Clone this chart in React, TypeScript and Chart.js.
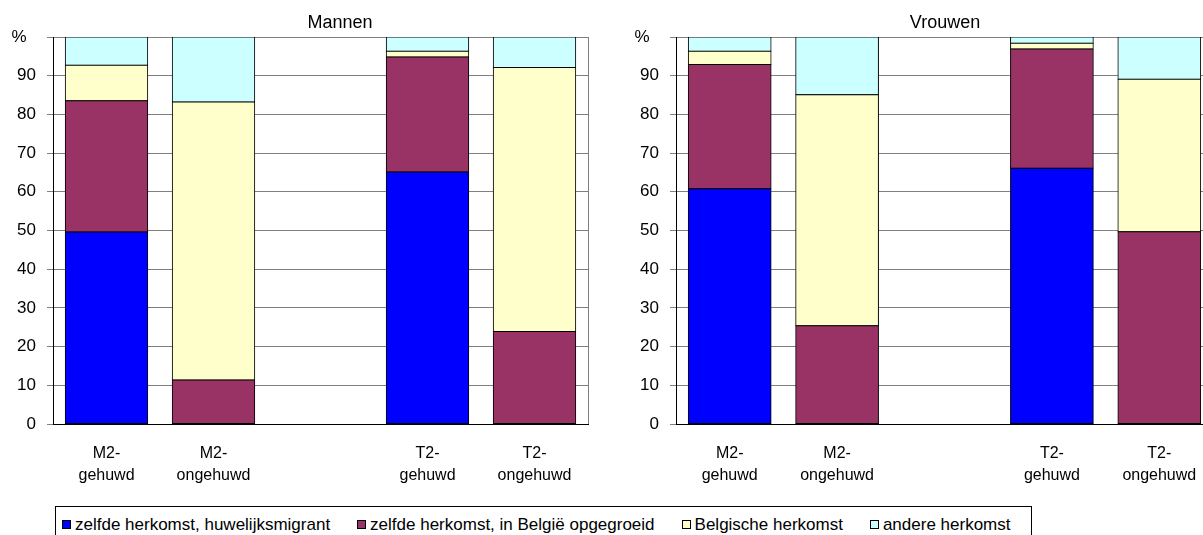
import React, { useEffect, useRef } from "react";
import { Chart, registerables } from "chart.js";

Chart.register(...registerables);

const FONT = "'Liberation Sans', Arial, sans-serif";

const categories: (string | string[])[] = [
  ["M2-", "gehuwd"],
  ["M2-", "ongehuwd"],
  "",
  ["T2-", "gehuwd"],
  ["T2-", "ongehuwd"],
];

const seriesNames = [
  "zelfde herkomst, huwelijksmigrant",
  "zelfde herkomst, in België opgegroeid",
  "Belgische herkomst",
  "andere herkomst",
];
const seriesColors = ["#0000FF", "#993366", "#FFFFCC", "#CCFFFF"];

const yTickValues = [0, 10, 20, 30, 40, 50, 60, 70, 80, 90, 100];
const yTickLabels = ["0", "10", "20", "30", "40", "50", "60", "70", "80", "90", "%  "];

const mannenMigrant = [49.6, null, null, 65.1, null];
const mannenOpgegroeid = [33.9, 11.4, null, 29.7, 23.9];
const mannenBelgisch = [9.2, 71.8, null, 1.5, 68.2];
const mannenAndere = [7.3, 16.8, null, 3.7, 7.9];

const vrouwenMigrant = [60.8, null, null, 66.1, null];
const vrouwenOpgegroeid = [32.1, 25.4, null, 30.8, 49.7];
const vrouwenBelgisch = [3.4, 59.7, null, 1.5, 39.4];
const vrouwenAndere = [3.7, 14.9, null, 1.6, 10.9];

const panelPlugin = {
  id: "panel",
  beforeDatasetsDraw(chart: any) {
    const { ctx, chartArea } = chart;
    ctx.save();
    ctx.strokeStyle = "#808080";
    ctx.lineWidth = 1;
    ctx.beginPath();
    const x = Math.round(chartArea.right) + 0.5;
    ctx.moveTo(x, chartArea.top);
    ctx.lineTo(x, chartArea.bottom);
    ctx.stroke();
    ctx.restore();
  },
  afterDraw(chart: any, _args: any, opts: any) {
    const { ctx } = chart;
    ctx.save();
    ctx.fillStyle = "#000";
    ctx.font = `${opts.size || 17}px ${FONT}`;
    ctx.textAlign = "center";
    ctx.textBaseline = "middle";
    ctx.fillText(opts.text, opts.x, opts.y);
    ctx.restore();
  },
};

function Panel(props: {
  title: string;
  titleX: number;
  left: number;
  width: number;
  rightPad: number;
  data: (number | null)[][];
}) {
  const ref = useRef<HTMLCanvasElement>(null);
  useEffect(() => {
    const canvas = ref.current!;
    const chart = new Chart(canvas, {
      type: "bar",
      data: {
        labels: categories,
        datasets: props.data.map((d, i) => ({
          label: seriesNames[i],
          data: d,
          backgroundColor: seriesColors[i],
          borderColor: "#000000",
          borderWidth: 1,
          borderSkipped: false,
          inflateAmount: 0.5,
          categoryPercentage: 1,
          barPercentage: 0.77,
        })),
      },
      options: {
        animation: false,
        responsive: false,
        devicePixelRatio: 1,
        layout: { padding: { left: 0, right: props.rightPad, top: 37, bottom: 0 } },
        font: { family: FONT, size: 16 },
        plugins: {
          legend: { display: false },
          tooltip: { enabled: false },
          title: { display: false },
          panel: { text: props.title, x: props.titleX, y: 23, size: 18 },
        } as any,
        scales: {
          x: {
            stacked: true,
            grid: { display: false, drawTicks: false },
            border: { display: true, color: "#000000", width: 1 },
            ticks: {
              color: "#000000",
              font: { family: FONT, size: 16, lineHeight: 1.4 },
              padding: 18,
              maxRotation: 0,
              autoSkip: false,
            },
            afterFit(scale: any) {
              scale.height = 76;
            },
          },
          y: {
            stacked: true,
            min: 0,
            max: 100,
            afterBuildTicks(scale: any) {
              scale.ticks = yTickValues.map((v) => ({ value: v }));
            },
            grid: { color: "#808080", tickLength: 6, tickColor: "#808080", lineWidth: 1 },
            border: { display: true, color: "#000000", width: 1 },
            ticks: {
              color: "#000000",
              font: { family: FONT, size: 17 },
              padding: 11,
              callback: (value: any) => {
                const idx = yTickValues.indexOf(Number(value));
                return idx >= 0 ? yTickLabels[idx] : "";
              },
            },
            afterFit(scale: any) {
              scale.width = 53;
            },
          },
        },
      },
      plugins: [panelPlugin],
    });
    return () => chart.destroy();
  }, []);
  return (
    <canvas
      ref={ref}
      width={props.width}
      height={500}
      style={{ position: "absolute", left: props.left, top: 0, width: props.width, height: 500 }}
    />
  );
}

export default function App() {
  return (
    <div
      style={{
        position: "fixed",
        left: 0,
        top: 0,
        width: 1203,
        height: 535,
        overflow: "hidden",
        background: "#ffffff",
        fontFamily: FONT,
      }}
    >
      <Panel
        title="Mannen"
        titleX={340}
        left={0}
        width={680}
        rightPad={92}
        data={[mannenMigrant, mannenOpgegroeid, mannenBelgisch, mannenAndere]}
      />
      <Panel
        title="Vrouwen"
        titleX={322}
        left={623}
        width={680}
        rightPad={90}
        data={[vrouwenMigrant, vrouwenOpgegroeid, vrouwenBelgisch, vrouwenAndere]}
      />
      <div
        style={{
          position: "absolute",
          left: 55,
          top: 506,
          width: 977,
          height: 40,
          border: "1px solid #000",
          boxSizing: "border-box",
          background: "#fff",
          display: "flex",
          alignItems: "flex-start",
          paddingLeft: 6,
          paddingTop: 8,
          gap: 27,
        }}
      >
        {seriesNames.map((name, i) => (
          <div key={name} style={{ display: "flex", alignItems: "center", whiteSpace: "nowrap" }}>
            <div
              style={{
                width: 9,
                height: 9,
                border: "1px solid #000",
                boxSizing: "border-box",
                background: seriesColors[i],
                marginRight: 4,
              }}
            />
            <span style={{ fontSize: 17, lineHeight: "19px", color: "#000" }}>{name}</span>
          </div>
        ))}
      </div>
    </div>
  );
}
